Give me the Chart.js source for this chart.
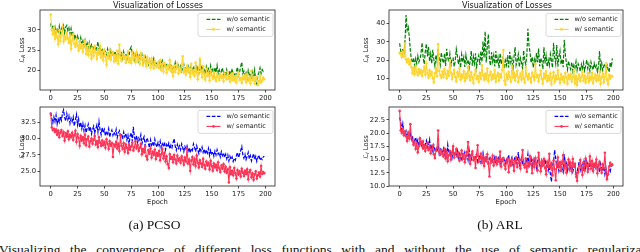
<!DOCTYPE html>
<html>
<head>
<meta charset="utf-8">
<script src="https://cdn.jsdelivr.net/npm/chart.js@4.4.1/dist/chart.umd.min.js"></script>
<style>
  html, body { margin: 0; padding: 0; background: #fff; }
  #fig { position: relative; width: 640px; height: 252px; overflow: hidden; background: #fff; }
  canvas { position: absolute; }
  .t { position: absolute; white-space: nowrap; color: #111; font-family: "DejaVu Sans", sans-serif; }
  .title { font-size: 8px; transform: translate(-50%, -50%); }
  .ylab { font-size: 6.8px; transform: translate(-50%, -50%) rotate(-90deg); }
  .xlab { font-size: 6.8px; transform: translate(-50%, -50%); }
  .cap { position: absolute; white-space: nowrap; color: #111; font-family: "Liberation Serif", "Times New Roman", serif; font-size: 13.5px; line-height: 13.5px; }
</style>
</head>
<body>
<div id="fig">
  <canvas id="c1" width="280" height="102" style="left:0px;top:2px"></canvas>
  <canvas id="c2" width="280" height="101" style="left:0px;top:99px"></canvas>
  <canvas id="c3" width="279" height="102" style="left:349px;top:2px"></canvas>
  <canvas id="c4" width="279" height="101" style="left:349px;top:99px"></canvas>

  <div class="t title" style="left:158px;top:4.7px">Visualization of Losses</div>
  <div class="t title" style="left:507px;top:4.7px">Visualization of Losses</div>
  <div class="t ylab" style="left:21.5px;top:50px"><i>ℒ</i><sub style="font-size:70%;font-style:italic;vertical-align:-1px;line-height:0">R</sub> Loss</div>
  <div class="t ylab" style="left:21.5px;top:146.5px"><i>ℒ</i><sub style="font-size:70%;font-style:italic;vertical-align:-1px;line-height:0">I</sub> Loss</div>
  <div class="t ylab" style="left:366px;top:50px"><i>ℒ</i><sub style="font-size:70%;font-style:italic;vertical-align:-1px;line-height:0">R</sub> Loss</div>
  <div class="t ylab" style="left:366px;top:146.5px"><i>ℒ</i><sub style="font-size:70%;font-style:italic;vertical-align:-1px;line-height:0">I</sub> Loss</div>
  <div class="t xlab" style="left:157.5px;top:202px">Epoch</div>
  <div class="t xlab" style="left:506px;top:202px">Epoch</div>

  <div class="cap" style="left:154.5px;top:218.2px;transform:translateX(-50%)">(a) PCSO</div>
  <div class="cap" style="left:500px;top:218.2px;transform:translateX(-50%)">(b) ARL</div>
  <div class="cap" style="left:-1px;top:242.6px;word-spacing:6.3px">Visualizing the convergence of different loss functions with and without the use of semantic regularization.</div>
</div>

<script>
// ---------- data ----------
const xTicks = [0, 25, 50, 75, 100, 125, 150, 175, 200];
const legendLabels = ['w/o semantic', 'w/ semantic'];

// (a) PCSO, L_R loss
const pcsoR_wo = [
  31.6,30.2,31.2,29.4,30.6,28.8,30.1,29.5,30.9,28.6,30.4,29.9,31.0,29.2,30.7,31.1,29.8,30.5,29.0,30.3,
  28.4,29.6,27.9,28.8,27.2,28.5,27.6,26.9,28.1,26.4,27.3,26.0,27.4,25.8,26.7,25.5,26.9,25.2,26.4,25.9,
  25.0,26.3,24.8,25.7,27.1,24.6,25.9,24.2,25.4,23.8,25.1,24.6,23.9,25.3,24.1,23.6,24.9,23.4,24.5,23.9,
  24.7,23.2,24.3,23.8,25.0,23.5,24.2,22.9,24.6,23.3,24.1,22.8,24.4,23.6,25.2,25.8,23.9,24.7,22.6,23.8,
  23.1,24.2,22.4,23.6,22.9,23.9,21.8,22.7,23.4,21.9,22.8,21.5,22.6,21.2,22.3,21.7,22.9,21.0,22.1,21.6,
  21.4,22.2,20.8,21.7,22.4,20.6,21.5,20.9,21.8,20.4,21.2,20.7,21.6,19.9,21.0,20.5,21.9,20.2,20.9,21.3,
  20.3,21.1,19.8,20.6,21.4,19.6,20.8,20.1,21.0,19.5,20.4,21.2,19.9,20.6,19.3,21.5,20.0,20.7,19.4,22.0,
  20.2,21.3,19.7,20.5,19.1,20.9,19.8,20.4,18.9,21.1,19.6,20.3,18.8,20.7,19.5,21.2,19.2,20.1,18.7,19.9,
  20.6,19.0,19.8,18.5,20.2,19.3,18.4,19.9,18.9,20.4,18.6,19.5,18.2,19.7,20.8,18.8,19.6,21.0,22.0,19.2,
  19.8,18.6,19.4,18.1,20.0,18.9,19.3,17.9,19.6,18.4,20.1,17.2,16.6,18.8,19.5,20.6,19.2,20.2,19.7,20.0
];
const pcsoR_w = [
  33.8,30.1,28.9,30.5,27.8,29.6,28.2,26.5,29.9,27.3,28.8,30.8,27.1,28.4,27.6,29.2,27.9,26.8,28.5,25.3,
  27.4,28.9,26.6,25.8,27.7,26.2,24.9,27.0,25.5,26.3,24.6,25.9,27.2,24.1,25.6,23.8,26.4,24.7,22.9,25.3,
  23.6,25.8,24.4,22.8,25.1,24.0,26.0,23.2,24.6,22.5,24.9,23.4,21.4,24.2,23.0,25.0,22.7,23.9,24.5,22.2,
  23.7,22.4,24.8,21.6,26.4,23.1,22.3,24.0,22.8,23.5,21.9,23.3,24.6,22.1,23.0,21.8,24.4,22.6,23.9,22.0,
  24.5,22.3,23.4,21.6,24.2,22.8,21.3,23.6,22.1,21.0,23.2,21.8,22.6,20.7,22.9,21.4,20.5,22.3,21.1,20.8,
  21.9,20.6,22.4,20.1,21.5,19.7,21.8,20.9,19.4,21.2,20.3,22.5,19.9,20.8,18.6,21.0,19.6,20.4,21.7,19.3,
  20.6,19.8,21.4,23.5,19.5,20.3,18.9,21.1,19.7,20.5,18.4,21.6,19.2,20.0,18.7,21.9,19.4,17.8,20.6,22.7,
  19.6,18.3,21.0,19.1,17.7,20.2,18.6,19.4,17.5,19.9,18.8,17.9,19.5,18.2,17.4,19.1,18.5,17.6,19.0,18.1,
  18.7,17.3,19.2,18.4,17.8,19.6,18.0,17.2,18.9,17.7,19.3,17.5,18.6,17.0,18.3,19.4,17.6,18.1,16.9,18.5,
  17.8,18.7,17.1,19.0,17.4,18.2,16.8,19.9,17.6,18.3,16.7,17.9,18.4,16.4,17.3,18.6,17.0,17.5,18.2,17.8
];
// (a) PCSO, L_I loss
const pcsoI_wo = [
  34.0,33.1,32.4,33.3,32.6,33.6,32.2,33.0,32.5,33.4,32.8,33.9,34.4,33.2,32.7,33.8,32.9,33.5,32.3,33.1,
  32.6,33.3,31.9,32.8,33.7,32.1,33.0,31.7,32.5,31.5,32.3,31.2,32.0,30.9,31.6,32.2,31.1,31.8,30.7,31.4,
  31.9,30.8,31.5,32.1,31.0,32.6,31.3,30.6,31.7,30.9,31.4,30.4,31.1,30.7,31.5,30.2,30.9,31.3,30.5,31.0,
  30.6,31.4,30.1,30.8,31.2,30.4,30.7,29.9,31.0,30.3,30.8,29.8,30.5,29.2,30.4,30.9,29.6,31.8,30.2,29.7,
  30.5,29.4,30.1,29.8,30.6,29.2,29.9,30.3,28.9,29.7,30.1,29.3,28.6,29.8,29.0,29.5,28.8,29.9,29.1,28.7,
  29.4,28.9,29.6,28.5,29.2,28.8,29.5,28.3,29.1,28.7,29.3,28.4,29.0,28.6,29.4,30.0,28.8,28.2,29.1,28.5,
  28.9,28.3,29.2,28.6,28.0,28.8,28.4,28.9,28.1,28.6,27.8,28.5,28.2,29.2,28.7,28.0,28.9,28.3,27.7,28.6,
  28.1,28.7,27.9,28.4,27.6,28.3,27.8,28.5,27.4,28.2,27.7,28.0,27.3,28.1,27.5,28.3,27.6,27.9,27.2,28.0,
  27.4,27.8,27.1,27.6,26.9,27.5,26.6,27.3,26.8,27.2,26.5,27.0,26.7,27.4,27.9,27.1,27.6,28.2,28.8,27.5,
  27.0,27.6,26.8,27.3,27.9,26.9,27.4,26.6,27.2,27.7,26.8,27.3,26.5,27.1,27.5,26.7,27.0,26.8,27.2,27.3
];
const pcsoI_w = [
  33.8,31.7,31.3,31.5,31.0,31.4,30.6,31.2,30.2,30.9,31.3,30.4,31.0,29.7,30.8,30.3,31.1,29.9,30.6,30.2,
  30.9,29.8,30.5,31.2,29.5,30.7,30.1,28.9,30.4,29.7,30.2,29.3,30.6,29.0,29.9,30.3,28.8,29.6,30.0,29.2,
  29.8,30.4,29.1,29.6,28.7,30.2,29.4,28.9,29.7,29.0,29.5,28.6,29.9,29.2,28.4,29.6,28.9,29.3,27.2,29.1,
  28.8,29.5,28.5,29.2,28.1,30.5,28.9,28.4,29.3,28.0,29.1,28.6,27.8,29.0,28.3,28.8,29.4,28.2,28.7,29.6,
  28.5,29.0,28.1,28.6,29.2,27.6,28.4,27.9,28.8,27.3,26.8,28.2,27.7,28.5,27.1,28.0,27.5,28.3,26.9,27.8,
  27.4,28.1,26.7,27.6,28.4,27.0,27.8,26.5,27.3,26.1,25.5,27.6,26.9,27.2,26.4,27.5,26.8,26.2,27.4,26.6,
  27.0,26.3,27.3,26.7,26.0,27.1,26.5,28.5,26.2,26.8,25.1,26.6,27.2,26.1,26.9,25.8,27.4,26.3,25.6,26.7,
  26.2,25.7,26.9,26.0,25.4,26.5,25.9,26.3,25.3,26.6,25.8,25.1,26.2,25.6,26.0,25.2,26.4,25.5,24.9,25.9,
  25.4,26.1,25.0,25.7,24.8,25.3,23.3,25.6,24.6,25.1,24.4,25.5,24.7,23.9,25.2,24.5,25.0,24.2,25.4,24.8,
  24.3,25.1,24.6,25.3,23.8,24.9,25.2,24.1,24.7,23.7,24.5,25.0,23.9,24.4,24.8,24.2,25.8,24.6,24.9,24.7
];
// (b) ARL, L_R loss
const arlR_wo = [
  29.2,25.1,22.4,26.3,23.0,30.1,44.5,36.2,38.0,33.1,25.4,20.3,18.6,21.4,17.2,20.8,18.1,22.3,19.0,20.5,
  23.6,29.5,21.2,17.9,24.8,28.9,22.1,27.3,19.5,23.4,18.2,25.7,20.4,16.8,22.9,19.3,26.1,21.0,17.5,24.2,
  20.1,18.4,23.7,16.9,26.2,21.5,19.0,23.4,17.3,20.8,21.2,16.5,19.7,26.0,22.4,17.8,20.9,15.9,23.1,19.2,
  21.7,16.4,22.8,18.5,20.3,15.8,19.6,25.1,17.0,21.9,18.3,23.7,16.2,20.5,22.6,17.4,24.9,19.1,30.2,21.3,
  35.6,18.8,27.2,34.1,20.6,17.1,24.3,19.4,22.7,16.6,25.0,18.0,21.5,15.7,23.8,17.9,20.2,22.1,15.4,19.8,
  17.3,22.6,16.1,24.5,18.7,20.9,15.6,21.8,27.1,17.4,19.9,23.2,16.3,21.0,18.4,15.5,25.3,19.6,17.7,22.8,
  37.0,28.1,24.2,18.5,21.7,16.0,20.4,17.6,23.9,18.9,26.3,16.7,21.1,19.4,15.3,27.0,18.2,22.5,16.4,20.1,
  17.2,23.3,19.8,15.9,29.4,21.6,18.1,28.2,16.5,22.0,25.1,17.8,20.7,16.2,31.0,23.1,18.4,14.9,19.6,16.8,
  15.1,18.9,14.2,17.5,15.8,19.3,14.6,18.0,16.3,13.9,17.7,15.2,18.6,14.4,16.9,20.2,15.5,17.8,14.1,19.0,
  16.4,14.8,18.3,15.6,17.1,13.8,16.7,25.0,15.3,18.5,14.5,16.9,18.2,14.0,17.4,15.1,13.6,18.8,16.2,21.0
];
const arlR_w = [
  24.0,23.2,21.8,24.5,22.1,29.0,20.4,18.9,20.6,17.8,19.5,16.2,13.0,15.7,12.4,16.8,13.5,11.9,15.1,12.8,
  14.6,11.5,13.9,16.4,12.2,18.3,13.1,10.7,14.5,11.8,13.6,10.2,8.1,12.9,15.4,11.3,28.6,14.2,12.0,10.5,
  13.8,11.1,15.2,12.6,10.3,14.1,11.7,20.1,13.2,9.8,12.5,14.7,10.9,8.6,13.4,11.2,15.8,9.5,12.3,10.6,
  14.0,8.9,12.7,10.4,16.1,11.6,9.2,13.3,10.8,7.6,12.1,14.9,9.9,11.4,8.3,13.0,10.1,17.2,11.8,9.4,
  12.6,10.0,15.5,8.7,11.9,13.7,9.6,12.2,10.3,14.4,8.4,11.5,13.1,9.0,12.4,10.7,14.8,25.5,8.8,6.9,
  12.3,9.7,13.6,11.0,8.5,17.0,10.6,12.9,9.1,11.8,14.2,8.2,10.9,12.7,9.5,13.8,10.2,7.8,16.0,11.3,
  9.6,12.5,10.4,8.0,13.2,11.1,9.3,18.0,10.8,12.0,8.6,11.7,14.3,9.9,7.4,12.6,10.3,13.9,8.8,11.4,
  9.2,12.8,7.1,10.5,13.4,8.3,11.6,9.7,14.6,10.1,7.7,12.2,9.4,11.0,8.1,13.1,10.6,7.3,11.9,9.8,
  12.4,8.5,10.9,14.1,7.5,11.3,6.6,9.9,12.1,8.7,10.7,13.6,9.0,11.5,7.9,10.2,12.9,8.4,11.1,9.5,
  13.0,7.6,10.4,12.3,8.9,11.7,9.3,14.0,7.2,10.8,12.6,8.0,11.2,18.0,9.6,7.0,12.0,10.1,11.5,11.2
];
// (b) ARL, L_I loss
const arlI_wo = [
  23.0,22.1,20.6,21.8,20.2,19.7,20.4,19.3,20.0,19.1,19.9,18.8,19.5,17.9,18.6,19.2,18.1,18.7,17.6,18.4,
  18.0,17.4,18.3,17.2,17.9,18.6,17.3,17.8,18.8,16.9,17.5,16.6,17.7,16.8,17.2,16.4,17.6,16.1,17.0,16.7,
  16.3,17.1,16.0,16.8,15.7,17.8,16.2,15.9,16.6,15.4,16.9,15.6,16.3,15.8,16.7,15.3,16.1,15.5,14.7,16.0,
  15.6,16.4,15.2,15.9,14.9,16.8,15.4,15.0,16.2,15.7,14.8,15.5,16.0,14.6,15.3,15.9,14.5,15.2,16.3,14.9,
  15.4,14.7,15.8,14.3,15.1,15.6,14.4,15.0,14.8,15.5,14.2,15.3,14.6,15.7,14.1,15.0,14.5,15.4,14.9,14.3,
  15.2,14.6,15.9,14.0,14.8,15.4,13.7,14.9,15.6,14.2,14.7,16.4,13.9,14.5,15.3,14.1,14.8,13.6,15.0,14.4,
  16.0,13.8,14.6,15.2,13.5,14.9,14.3,15.5,13.4,14.7,15.8,14.0,13.3,14.8,13.9,14.5,15.1,13.6,14.2,12.9,
  13.7,12.3,10.8,13.9,14.6,16.8,15.2,13.4,14.1,12.8,13.8,14.5,13.2,12.6,16.0,13.6,14.3,12.9,13.9,14.4,
  13.1,14.0,12.7,13.5,14.2,11.9,12.5,13.7,14.6,13.0,13.8,14.1,12.8,14.4,13.3,14.7,13.9,13.2,14.5,13.6,
  14.0,12.9,14.3,13.5,14.8,13.1,13.9,12.6,14.2,13.4,12.8,13.7,12.2,13.3,11.6,12.4,13.1,12.7,13.8,14.3
];
const arlI_w = [
  24.2,20.5,20.0,20.8,19.6,20.3,19.4,18.5,20.1,19.0,21.7,19.3,18.6,17.8,18.3,17.0,18.0,16.4,17.5,19.0,
  17.9,18.4,17.1,17.7,16.6,17.3,18.1,16.8,17.4,16.2,16.9,17.6,16.0,15.3,16.7,17.2,20.5,16.5,15.9,16.8,
  16.1,15.6,16.9,15.2,16.4,14.7,15.8,16.6,15.0,16.2,17.5,15.4,16.2,17.0,15.6,16.3,14.8,15.9,16.7,15.1,
  16.0,14.5,15.7,16.4,18.3,15.3,14.2,15.8,16.5,14.9,15.4,13.4,15.9,17.7,14.6,15.2,16.1,14.4,15.6,13.8,
  15.3,14.7,16.0,14.2,11.8,15.1,14.5,15.7,13.9,14.8,15.4,14.1,15.0,14.6,16.5,13.7,14.9,15.3,14.0,13.2,
  14.6,15.2,12.6,14.8,13.9,15.0,14.3,12.9,14.7,15.4,13.6,14.4,15.1,13.3,14.9,16.8,14.0,13.5,15.2,12.7,
  14.5,13.8,15.6,14.1,12.4,14.9,13.6,15.3,14.2,13.0,16.3,14.4,12.8,14.7,13.9,15.1,13.4,12.2,14.6,13.7,
  16.1,13.5,14.3,12.0,14.8,13.2,11.1,14.0,15.4,13.6,14.5,12.9,14.2,15.8,13.3,14.6,12.5,13.9,15.0,13.1,
  14.4,12.8,15.1,13.7,14.2,12.3,11.0,12.6,13.8,14.9,13.4,12.1,14.5,13.0,15.2,13.8,12.7,14.1,15.6,13.3,
  14.7,12.9,14.2,13.6,15.0,12.4,13.9,14.6,13.2,12.5,14.1,13.4,16.3,12.8,11.3,12.2,13.7,14.4,13.9,14.0
];

const yTicksPcsoR = [20, 25, 30];
const yTicksPcsoI = [25.0, 27.5, 30.0, 32.5];
const yTicksArlR = [10, 20, 30, 40];
const yTicksArlI = [10.0, 12.5, 15.0, 17.5, 20.0, 22.5];

// ---------- drawing ----------
const FONT = 'DejaVu Sans';
const TXT = '#1a1a1a';
const GREEN = '#008000', GOLD = '#FFD42E', BLUE = '#0000FF', RED = '#FF3355';

const framePlugin = {
  id: 'frameLegend',
  afterDraw(chart) {
    const { ctx, chartArea: a } = chart;
    ctx.save();
    ctx.strokeStyle = '#222';
    ctx.lineWidth = 0.8;
    ctx.strokeRect(a.left, a.top, a.right - a.left, a.bottom - a.top);
    const bw = 75, bh = 23;
    const bx = a.right - 2 - bw, by = a.top + 3.4;
    ctx.beginPath();
    const r = 2;
    ctx.moveTo(bx + r, by);
    ctx.lineTo(bx + bw - r, by); ctx.quadraticCurveTo(bx + bw, by, bx + bw, by + r);
    ctx.lineTo(bx + bw, by + bh - r); ctx.quadraticCurveTo(bx + bw, by + bh, bx + bw - r, by + bh);
    ctx.lineTo(bx + r, by + bh); ctx.quadraticCurveTo(bx, by + bh, bx, by + bh - r);
    ctx.lineTo(bx, by + r); ctx.quadraticCurveTo(bx, by, bx + r, by);
    ctx.closePath();
    ctx.fillStyle = 'rgba(255,255,255,0.85)';
    ctx.fill();
    ctx.strokeStyle = '#d0d0d0';
    ctx.lineWidth = 0.8;
    ctx.stroke();
    chart.data.datasets.forEach((ds, i) => {
      const yy = by + 6 + i * 10;
      ctx.strokeStyle = ds.borderColor;
      ctx.lineWidth = ds.borderWidth;
      ctx.setLineDash(ds.borderDash || []);
      ctx.beginPath();
      ctx.moveTo(bx + 8.5, yy); ctx.lineTo(bx + 22.5, yy);
      ctx.stroke();
      ctx.setLineDash([]);
      if (ds.pointRadius > 0) {
        ctx.fillStyle = ds.borderColor;
        ctx.beginPath(); ctx.arc(bx + 15.5, yy, ds.pointRadius, 0, Math.PI * 2); ctx.fill();
      }
      ctx.fillStyle = TXT;
      ctx.font = `6.5px "${FONT}"`;
      ctx.textBaseline = 'middle';
      ctx.textAlign = 'left';
      ctx.fillText(ds.label, bx + 28.5, yy + 0.3);
    });
    ctx.restore();
  }
};

function makeChart(id, woData, wData, woColor, wColor, yMin, yMax, yTicks, decimals) {
  const pts = arr => arr.map((v, i) => ({ x: i, y: v }));
  const tickFont = { family: FONT, size: 6.8 };
  const grid = { display: true, drawOnChartArea: false, drawTicks: true, tickLength: 2.5, color: '#222', lineWidth: 0.8 };
  return new Chart(document.getElementById(id), {
    type: 'line',
    data: {
      datasets: [
        { label: legendLabels[0], data: pts(woData), borderColor: woColor, borderWidth: 1.2,
          borderDash: [3.7, 1.6], pointRadius: 0, tension: 0, order: 1, fill: false },
        { label: legendLabels[1], data: pts(wData), borderColor: wColor, backgroundColor: wColor, borderWidth: 1.1,
          pointRadius: 1.3, pointBorderWidth: 0, pointBackgroundColor: wColor, tension: 0, order: 0, fill: false }
      ]
    },
    options: {
      responsive: false, animation: false, devicePixelRatio: 1,
      layout: { padding: { top: 8, right: 5, left: 0, bottom: 0 } },
      plugins: { legend: { display: false }, tooltip: { enabled: false }, title: { display: false } },
      scales: {
        x: {
          type: 'linear', min: -9.95, max: 208.95,
          afterBuildTicks: s => { s.ticks = xTicks.map(v => ({ value: v })); },
          afterFit: s => { s.height = 14; },
          grid: grid, border: { display: false },
          ticks: { font: tickFont, color: TXT, padding: 1.2, maxRotation: 0, autoSkip: false, callback: v => String(v) }
        },
        y: {
          type: 'linear', min: yMin, max: yMax,
          afterBuildTicks: s => { s.ticks = yTicks.map(v => ({ value: v })); },
          afterFit: s => { s.width = 40; },
          grid: grid, border: { display: false },
          ticks: { font: tickFont, color: TXT, padding: 1.5, autoSkip: false, callback: v => Number(v).toFixed(decimals) }
        }
      }
    },
    plugins: [framePlugin]
  });
}

makeChart('c1', pcsoR_wo, pcsoR_w, GREEN, GOLD, 15.15, 34.9, yTicksPcsoR, 0);
makeChart('c2', pcsoI_wo, pcsoI_w, BLUE, RED, 22.76, 34.83, yTicksPcsoI, 1);
makeChart('c3', arlR_wo, arlR_w, GREEN, GOLD, 3.87, 47.2, yTicksArlR, 0);
makeChart('c4', arlI_wo, arlI_w, BLUE, RED, 10.0, 24.94, yTicksArlI, 1);
</script>
</body>
</html>
